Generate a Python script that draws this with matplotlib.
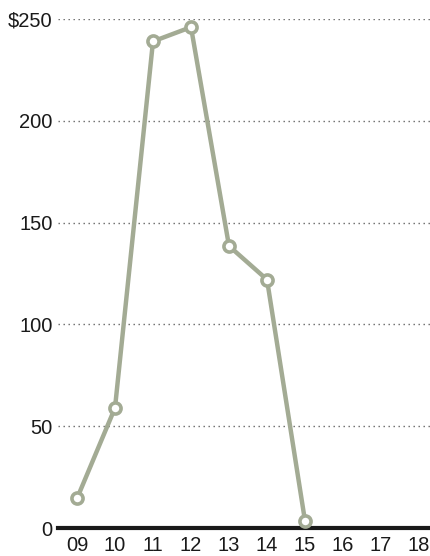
import matplotlib
matplotlib.use("Agg")
import matplotlib.pyplot as plt
from matplotlib import font_manager

years = ["09", "10", "11", "12", "13", "14", "15", "16", "17", "18"]
values = [14.5, 59, 239, 246, 138.5, 122, 3.5]
yticks = [0, 50, 100, 150, 200, 250]
ytick_labels = ["0", "50", "100", "150", "200", "$250"]

names = {f.name for f in font_manager.fontManager.ttflist}
fam = "Liberation Sans Narrow" if "Liberation Sans Narrow" in names else "Liberation Sans"
plt.rcParams['font.family'] = [fam, 'DejaVu Sans']

fig = plt.figure(figsize=(4.3, 5.56), dpi=100)
ax = fig.add_axes([58/430, 1-528/556, 1-58/430, (528-19)/556])

color = "#a3ab94"
x = list(range(len(values)))
ax.plot(x, values, color=color, lw=3.2, marker="o", markersize=8,
        markerfacecolor="white", markeredgecolor=color, markeredgewidth=2.6,
        zorder=5, clip_on=False, solid_joinstyle="round")

ax.set_xlim(-0.5, (430-77)/38)
ax.set_ylim(0, 250)
ax.set_xticks(range(len(years)))
ax.set_xticklabels(years)
ax.set_yticks(yticks)
ax.set_yticklabels(ytick_labels)

for t in yticks[1:]:
    ax.axhline(t, color="#666666", lw=1.0, ls=(0, (1, 2.6)), zorder=1)

for s in ["top", "right", "left"]:
    ax.spines[s].set_visible(False)
ax.spines["bottom"].set_linewidth(3)
ax.spines["bottom"].set_color("#1a1a1a")
ax.spines["bottom"].set_zorder(4)
ax.tick_params(axis="both", length=0, labelsize=14.5, colors="#1a1a1a")
ax.tick_params(axis="y", pad=4)
ax.tick_params(axis="x", pad=5.5)

fig.savefig("out.png", dpi=100)
